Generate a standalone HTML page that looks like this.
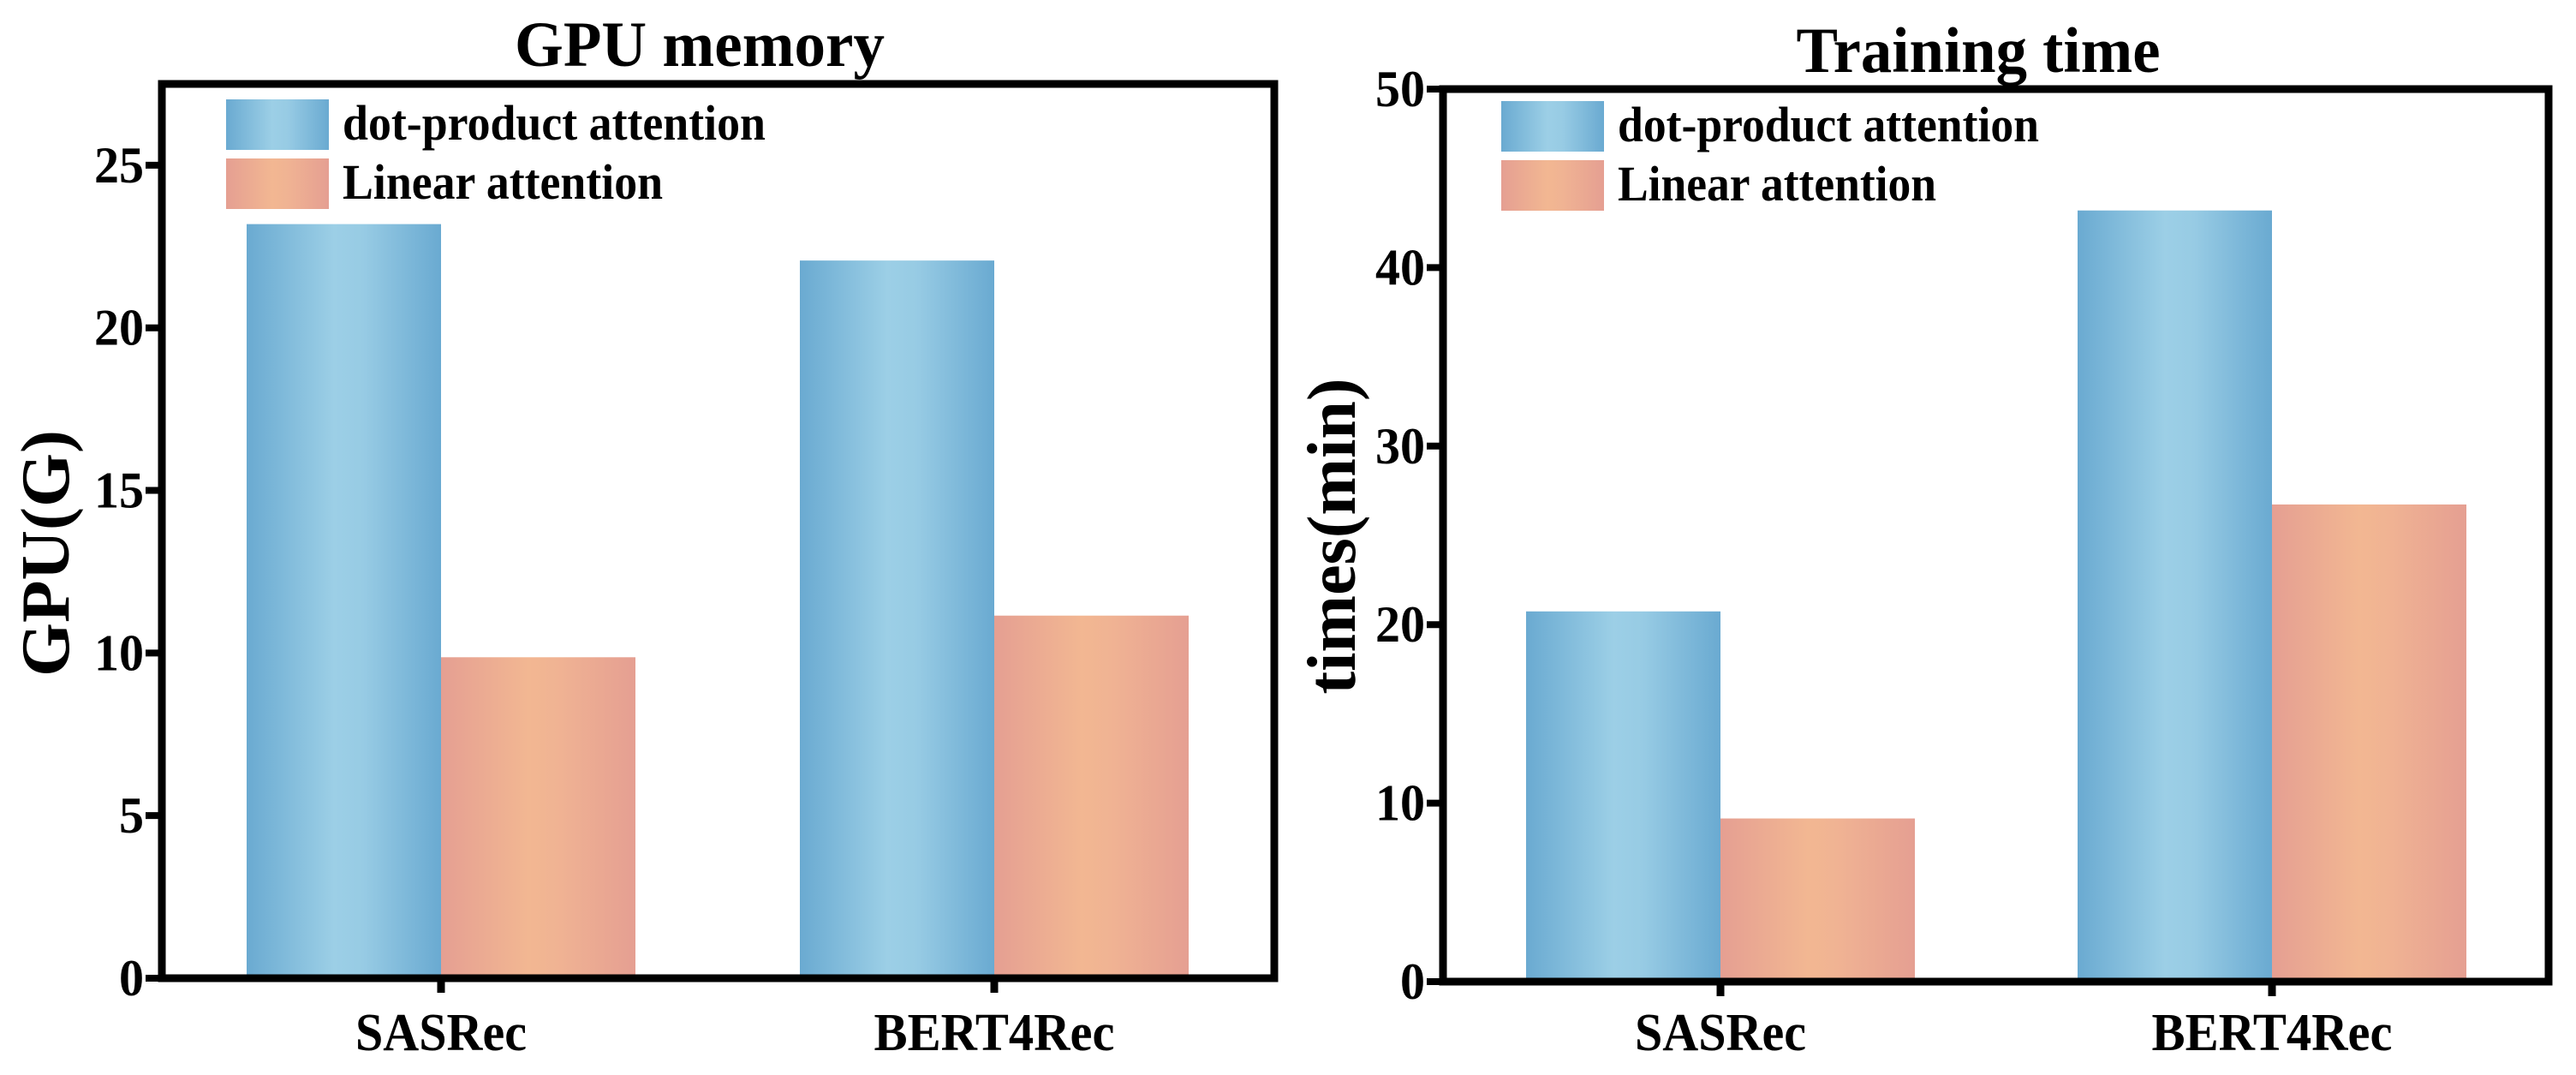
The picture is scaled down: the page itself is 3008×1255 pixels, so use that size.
<!DOCTYPE html>
<html><head><meta charset="utf-8"><style>
html,body{margin:0;padding:0;background:#fff;overflow:hidden;}
svg{display:block;}
text{font-family:"Liberation Serif","DejaVu Serif",serif;font-weight:bold;fill:#000;}
</style></head><body>
<svg id="chart" width="3008" height="1255" viewBox="0 0 3008 1255" xmlns="http://www.w3.org/2000/svg">
<defs>
<linearGradient id="gBlue" x1="0" x2="1" y1="0" y2="0">
<stop offset="0" stop-color="#6aaad1"/><stop offset="0.45" stop-color="#9ccfe6"/><stop offset="0.6" stop-color="#97cbe4"/><stop offset="1" stop-color="#6aaad1"/>
</linearGradient>
<linearGradient id="gRed" x1="0" x2="1" y1="0" y2="0">
<stop offset="0" stop-color="#e59f92"/><stop offset="0.45" stop-color="#f2b792"/><stop offset="0.6" stop-color="#f0b393"/><stop offset="1" stop-color="#e59f92"/>
</linearGradient>
</defs>
</svg>
<script>
const categories = ["SASRec", "BERT4Rec"];
const seriesNames = ["dot-product attention", "Linear attention"];
const gpuDot = [23.19, 22.07];
const gpuLinear = [9.87, 11.15];
const timeDot = [20.74, 43.2];
const timeLinear = [9.14, 26.73];
const gpuTicks = [0, 5, 10, 15, 20, 25];
const timeTicks = [0, 10, 20, 30, 40, 50];

const NS = "http://www.w3.org/2000/svg";
const svg = document.getElementById('chart');
function mk(tag, attrs, parent) {
  const e = document.createElementNS(NS, tag);
  for (const k in attrs) e.setAttribute(k, attrs[k]);
  (parent || svg).appendChild(e);
  return e;
}
function txt(str, attrs, parent) { const t = mk('text', attrs, parent); t.textContent = str; return t; }

function panel(cfg) {
  const g = mk('g', {});
  
  
  const L = cfg.left, R = cfg.right, T = cfg.top, B = cfg.bottom;
  const y = v => B - (v / cfg.ymax) * (B - T);
  const x = i => cfg.firstCenter + i * cfg.catGap;
  const bw = cfg.barW;
  categories.forEach((c, i) => {
    const d = cfg.dot[i], l = cfg.lin[i];
    const b1 = mk('rect', {x: x(i) - bw, y: y(d), width: bw, height: y(0) - y(d), fill: 'url(#gBlue)'}, g);
    
    
    const b2 = mk('rect', {x: x(i), y: y(l), width: bw, height: y(0) - y(l), fill: 'url(#gRed)'}, g);
    
    
    const tk = mk('line', {x1: x(i), x2: x(i), y1: B, y2: B + 17, stroke: '#000', 'stroke-width': 9}, g);
    
    
    const lb = txt(c, {x: x(i), y: cfg.xLabelY, 'font-size': 62, 'text-anchor': 'middle', textLength: cfg.xLabelW[i], lengthAdjust: 'spacingAndGlyphs'}, g);
    
    
  });
  cfg.ticks.forEach(t => {
    const tk = mk('line', {x1: L - 19, x2: L, y1: y(t), y2: y(t), stroke: '#000', 'stroke-width': 8}, g);
    
    
    const s = String(t);
    const lb = txt(s, {x: L - 21, y: y(t) + 20, 'font-size': 60, 'text-anchor': 'end', textLength: s.length * 29, lengthAdjust: 'spacingAndGlyphs'}, g);
    
    
  });
  const fr = mk('rect', {x: L, y: T, width: R - L, height: B - T, fill: 'none', stroke: '#000', 'stroke-width': 9}, g);
  
  
  const ti = txt(cfg.title, {x: cfg.titleX, y: cfg.titleY, 'font-size': 75, 'text-anchor': 'middle', textLength: cfg.titleW, lengthAdjust: 'spacingAndGlyphs'}, g);
  
  
  const yl = txt(cfg.ylabel, {x: 0, y: 0, 'font-size': 80, 'text-anchor': 'middle', textLength: cfg.ylabelW, lengthAdjust: 'spacingAndGlyphs', transform: 'translate(' + cfg.ylabelX + ',' + cfg.ylabelY + ') rotate(-90)'}, g);
  
  
  const lg = mk('g', {}, g);
  
  
  const fills = ['url(#gBlue)', 'url(#gRed)'];
  const lw = [cfg.legTextW0, cfg.legTextW1];
  seriesNames.forEach((s, k) => {
    const sy = cfg.legTop + k * 69;
    const sw = mk('rect', {x: cfg.legX, y: sy, width: 120, height: 59, fill: fills[k]}, lg);
    
    
    const lt = txt(s, {x: cfg.legX + 136, y: sy + 47, 'font-size': 58, textLength: lw[k], lengthAdjust: 'spacingAndGlyphs'}, lg);
    
    
  });
}

panel({name: 'gpu-memory-chart', left: 189, right: 1488, top: 98, bottom: 1142, ymax: 27.5,
  firstCenter: 515, catGap: 646, barW: 227, dot: gpuDot, lin: gpuLinear, ticks: gpuTicks,
  xLabelY: 1226, xLabelW: [200, 281], title: 'GPU memory', titleX: 817, titleY: 77, titleW: 432,
  ylabel: 'GPU(G)', ylabelX: 80, ylabelY: 646, ylabelW: 288,
  legX: 264, legTop: 116, legTextW0: 494, legTextW1: 374});

panel({name: 'training-time-chart', left: 1685, right: 2976, top: 104, bottom: 1146, ymax: 50,
  firstCenter: 2009, catGap: 644, barW: 227, dot: timeDot, lin: timeLinear, ticks: timeTicks,
  xLabelY: 1226, xLabelW: [200, 281], title: 'Training time', titleX: 2310, titleY: 84, titleW: 425,
  ylabel: 'times(min)', ylabelX: 1582, ylabelY: 626, ylabelW: 369,
  legX: 1753, legTop: 118, legTextW0: 492, legTextW1: 372});
</script>
</body></html>
